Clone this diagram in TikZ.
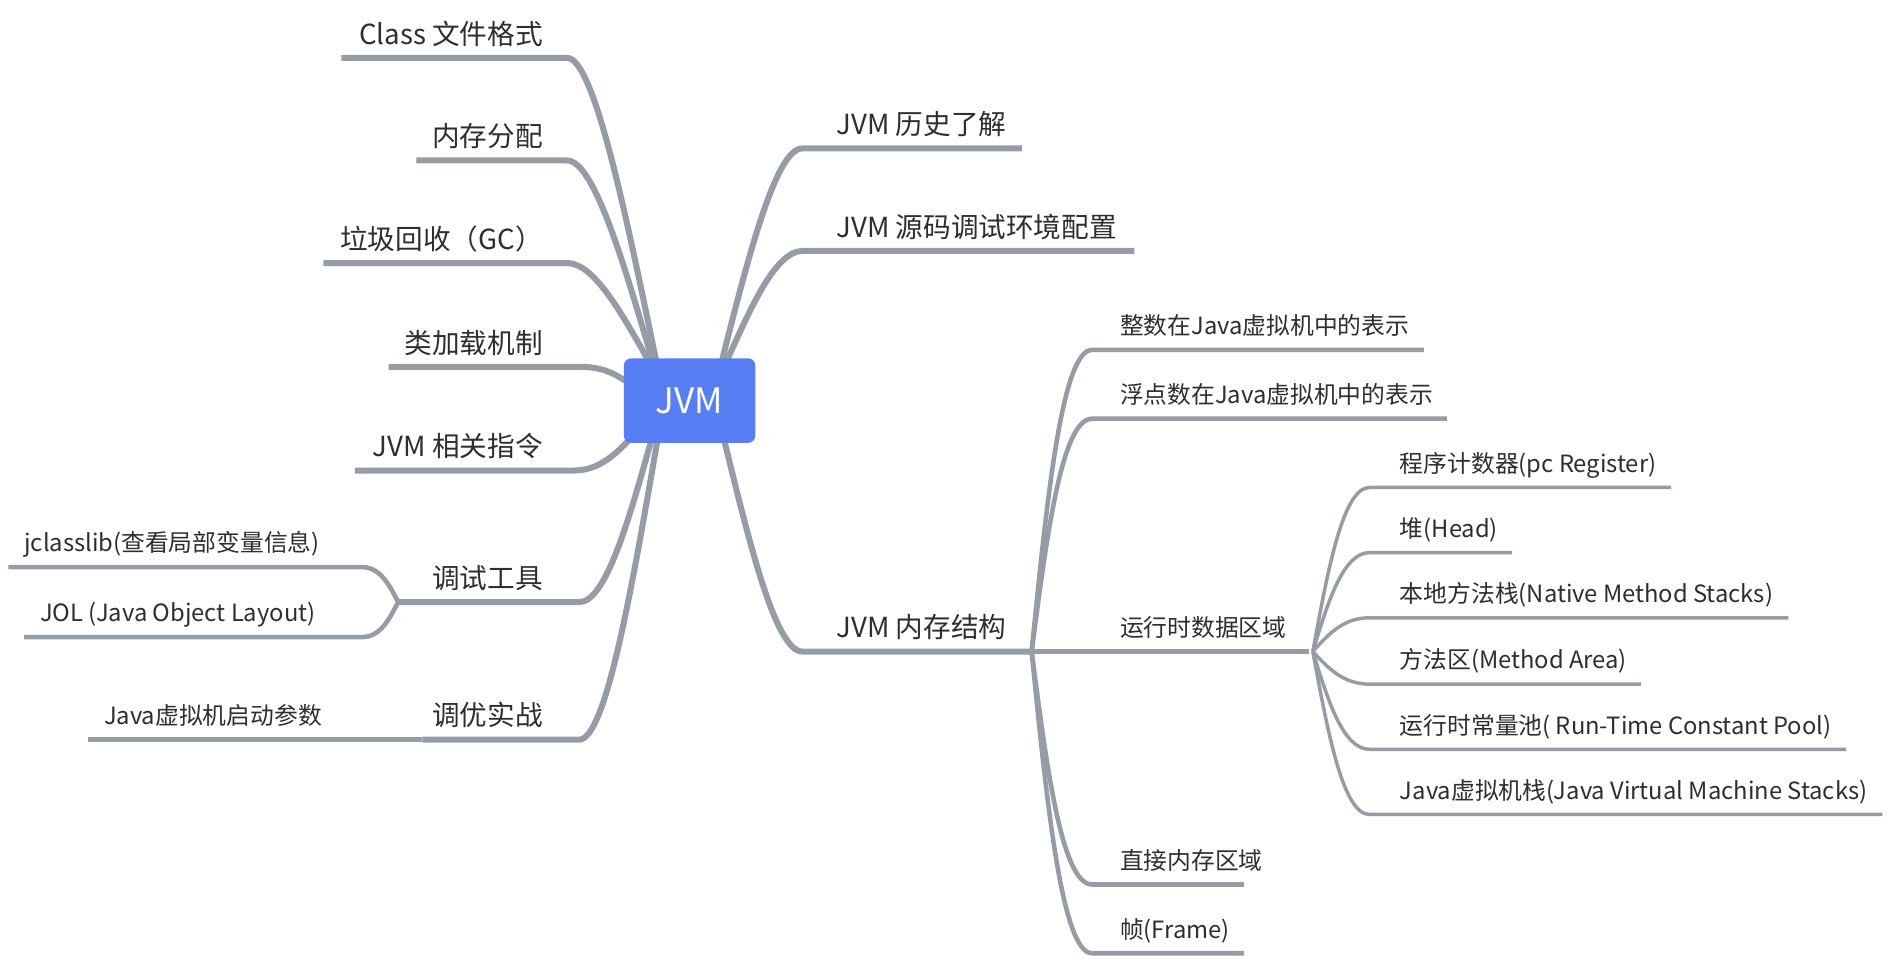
\documentclass[tikz,border=0pt]{standalone}
\usepackage{fontspec}
\setmainfont{Noto Sans CJK SC}
\usetikzlibrary{calc,backgrounds}
\definecolor{lc}{HTML}{959CA6}
\definecolor{tc}{HTML}{2E2E2E}
\definecolor{bc}{HTML}{587EF5}
% style, start(at parent), end of underline (near parent), k (control offset), far end of underline
\newcommand\mmbranch[5]{%
  \path (#3) ++(#4,0) coordinate (mmtmp);
  \draw[#1] (#5) -- (#3) .. controls (mmtmp) and ($(#2)!0.5!(mmtmp)$) .. (#2);}
\begin{document}
\begin{tikzpicture}[x=1pt,y=-1pt,
  lone/.style={draw=lc,line width=5pt},
  ltwo/.style={draw=lc,line width=3.8pt},
  lthree/.style={draw=lc,line width=2.9pt},
  tone/.style={inner sep=0pt,text=tc,font=\fontsize{22.9}{27}\selectfont},
  ttwo/.style={inner sep=0pt,text=tc,font=\fontsize{19.7}{23}\selectfont},
  root/.style={fill=bc,rounded corners=6pt,minimum width=109pt,minimum height=70pt,inner sep=0pt,text=white,font=\fontsize{29}{34}\selectfont}]
\useasboundingbox (0,0) rectangle (1568,794);
\node[root] (jvm) at (571.5,332) {JVM};
% left level 1 texts
\node[tone,anchor=base east] (l1) at (450,36.6) {Class 文件格式};
\node[tone,anchor=base east] (l2) at (450,121.6) {内存分配};
\node[tone,anchor=base east] (l3) at (450,206.6) {垃圾回收（GC）};
\node[tone,anchor=base east] (l4) at (450,292.6) {类加载机制};
\node[tone,anchor=base east] (l5) at (450,378.6) {JVM 相关指令};
\node[tone,anchor=base east] (l6) at (450,487.6) {调试工具};
\node[tone,anchor=base east] (l7) at (450,601.6) {调优实战};
\node[ttwo,anchor=base west] (l6a) at (20,457.4) {jclasslib(查看局部变量信息)};
\node[ttwo,anchor=base west] (l6b) at (33,515.4) {JOL (Java Object Layout)};
\node[ttwo,anchor=base west] (l7a) at (86,600.4) {Java虚拟机启动参数};
% right
\node[tone,anchor=base west] (r1) at (693,111.6) {JVM 历史了解};
\node[tone,anchor=base west] (r2) at (693,196.6) {JVM 源码调试环境配置};
\node[tone,anchor=base west] (r3) at (693,528.6) {JVM 内存结构};
\node[ttwo,anchor=base west] (r3a) at (928,277.4) {整数在Java虚拟机中的表示};
\node[ttwo,anchor=base west] (r3b) at (928,334.4) {浮点数在Java虚拟机中的表示};
\node[ttwo,anchor=base west] (r3c) at (928,527.4) {运行时数据区域};
\node[ttwo,anchor=base west] (r3d) at (928,720.4) {直接内存区域};
\node[ttwo,anchor=base west] (r3e) at (928,777.4) {帧(Frame)};
\node[ttwo,anchor=base west] (c1) at (1160,391.4) {程序计数器(pc Register)};
\node[ttwo,anchor=base west] (c2) at (1160,445.4) {堆(Head)};
\node[ttwo,anchor=base west] (c3) at (1160,499.4) {本地方法栈(Native Method Stacks)};
\node[ttwo,anchor=base west] (c4) at (1160,554.4) {方法区(Method Area)};
\node[ttwo,anchor=base west] (c5) at (1160,608.4) {运行时常量池( Run-Time Constant Pool)};
\node[ttwo,anchor=base west] (c6) at (1160,662.4) {Java虚拟机栈(Java Virtual Machine Stacks)};
% coordinates
\coordinate (sl1) at (544,300); \coordinate (sl2) at (541,300); \coordinate (sl3) at (538,300);
\coordinate (sl4) at (519,316); \coordinate (sl5) at (524,362);
\coordinate (sl6) at (540,364); \coordinate (sl7) at (545,364);
\coordinate (sr1) at (598,300); \coordinate (sr2) at (602,300); \coordinate (sr3) at (600,364);
\coordinate (e1) at (470,48);  \coordinate (f1) at (283,48);
\coordinate (e2) at (470,133); \coordinate (f2) at (345,133);
\coordinate (e3) at (470,218); \coordinate (f3) at (268,218);
\coordinate (e4) at (480,304); \coordinate (f4) at (322,304);
\coordinate (e5) at (475,390); \coordinate (f5) at (294,390);
\coordinate (e6) at (480,499); \coordinate (j6) at (330,499);
\coordinate (e7) at (480,613); \coordinate (j7) at (350,613);
\coordinate (e6a) at (300,470); \coordinate (f6a) at (7,470);
\coordinate (e6b) at (300,528); \coordinate (f6b) at (20,528);
\coordinate (f7a) at (73,613);
\coordinate (er1) at (665,123); \coordinate (fr1) at (847,123);
\coordinate (er2) at (665,208); \coordinate (fr2) at (940,208);
\coordinate (er3) at (665,540); \coordinate (j3) at (855,540);
\coordinate (ea) at (905,290); \coordinate (fa) at (1180,290);
\coordinate (eb) at (905,347); \coordinate (fb) at (1199,347);
\coordinate (j4) at (1088,540);
\coordinate (ed) at (905,733); \coordinate (fd) at (1031,733);
\coordinate (ee) at (905,790); \coordinate (fe) at (1031,790);
\coordinate (g1) at (1135,404); \coordinate (h1) at (1385,404);
\coordinate (g2) at (1135,458); \coordinate (h2) at (1253,458);
\coordinate (g3) at (1135,512); \coordinate (h3) at (1482,512);
\coordinate (g4) at (1135,567); \coordinate (h4) at (1360,567);
\coordinate (g5) at (1135,621); \coordinate (h5) at (1530,621);
\coordinate (g6) at (1135,675); \coordinate (h6) at (1560,675);
\begin{pgfonlayer}{background}
\fill[white] (0,0) rectangle (1568,794);
\mmbranch{lone}{sl1}{e1}{22}{f1}
\mmbranch{lone}{sl2}{e2}{22}{f2}
\mmbranch{lone}{sl3}{e3}{22}{f3}
\mmbranch{lone}{sl4}{e4}{20}{f4}
\mmbranch{lone}{sl5}{e5}{22}{f5}
\mmbranch{lone}{sl6}{e6}{22}{j6}
\mmbranch{lone}{sl7}{e7}{22}{j7}
\mmbranch{ltwo}{j6}{e6a}{15}{f6a}
\mmbranch{ltwo}{j6}{e6b}{15}{f6b}
\draw[ltwo] (f7a) -- (j7);
\mmbranch{lone}{sr1}{er1}{-22}{fr1}
\mmbranch{lone}{sr2}{er2}{-22}{fr2}
\mmbranch{lone}{sr3}{er3}{-22}{j3}
\mmbranch{ltwo}{j3}{ea}{-25}{fa}
\mmbranch{ltwo}{j3}{eb}{-25}{fb}
\draw[ltwo] (j3) -- (1085,540);
\mmbranch{ltwo}{j3}{ed}{-25}{fd}
\mmbranch{ltwo}{j3}{ee}{-25}{fe}
\mmbranch{lthree}{j4}{g1}{-22}{h1}
\mmbranch{lthree}{j4}{g2}{-22}{h2}
\mmbranch{lthree}{j4}{g3}{-22}{h3}
\mmbranch{lthree}{j4}{g4}{-22}{h4}
\mmbranch{lthree}{j4}{g5}{-22}{h5}
\mmbranch{lthree}{j4}{g6}{-22}{h6}
\end{pgfonlayer}
\end{tikzpicture}
\end{document}
